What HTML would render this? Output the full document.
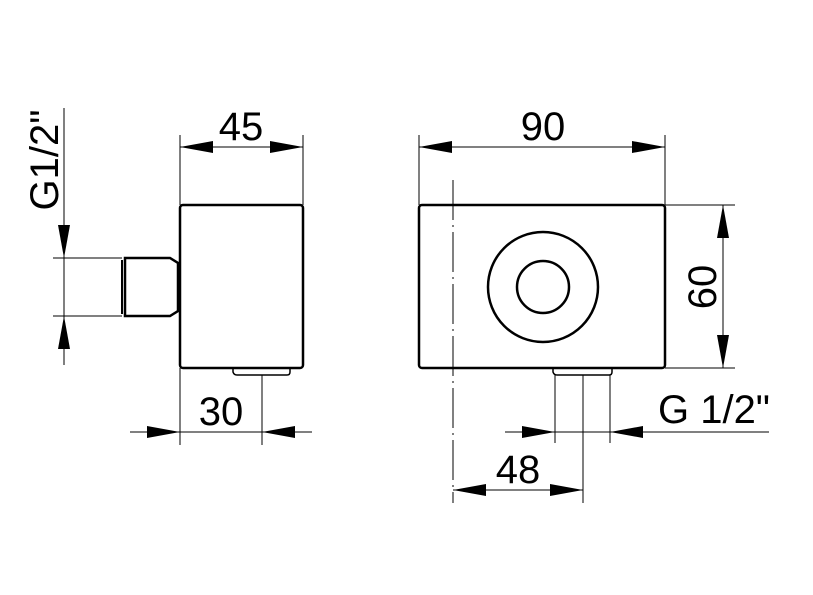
<!DOCTYPE html>
<html><head><meta charset="utf-8"><style>
html,body{margin:0;padding:0;background:#fff;width:813px;height:595px;overflow:hidden}
text{font-family:"Liberation Sans",Arial,sans-serif;fill:#000}
</style></head><body>
<svg width="813" height="595" viewBox="0 0 813 595" xmlns="http://www.w3.org/2000/svg">
<g stroke="#000" fill="none">
<rect x="180" y="205" width="123" height="163" rx="3" stroke-width="2.5"/>
<path d="M125 258 H170 L178 263 V311 L170 316 H125 Z" stroke-width="2.5"/>
<line x1="122" y1="260" x2="122" y2="314" stroke-width="2"/>
<path d="M233 368 V372 Q234 375 237 375 H287 Q290 375 290 372 V368" stroke-width="1.5"/>
<line x1="180" y1="135" x2="180" y2="205" stroke-width="1"/>
<line x1="303" y1="135" x2="303" y2="205" stroke-width="1"/>
<line x1="180" y1="147" x2="303" y2="147" stroke-width="1"/>
<line x1="64" y1="108" x2="64" y2="365" stroke-width="1"/>
<line x1="53" y1="258" x2="122" y2="258" stroke-width="1"/>
<line x1="53" y1="316" x2="122" y2="316" stroke-width="1"/>
<line x1="180" y1="368" x2="180" y2="445" stroke-width="1"/>
<line x1="262" y1="375" x2="262" y2="445" stroke-width="1"/>
<line x1="130" y1="432" x2="312" y2="432" stroke-width="1"/>

<rect x="419" y="205" width="246" height="163" rx="3" stroke-width="2.5"/>
<circle cx="543" cy="287" r="55" stroke-width="2.5"/>
<circle cx="543" cy="287" r="26" stroke-width="2.5"/>
<path d="M553 368 V372 Q554 375 557 375 H609 Q612 375 612 372 V368" stroke-width="1.5"/>
<line x1="453" y1="180" x2="453" y2="503" stroke-width="1" stroke-dasharray="40,5,2,5"/>
<line x1="583" y1="375" x2="583" y2="503" stroke-width="1"/>
<line x1="555" y1="375" x2="555" y2="443" stroke-width="1"/>
<line x1="610" y1="375" x2="610" y2="443" stroke-width="1"/>
<line x1="419" y1="135" x2="419" y2="205" stroke-width="1"/>
<line x1="665" y1="135" x2="665" y2="205" stroke-width="1"/>
<line x1="419" y1="147" x2="665" y2="147" stroke-width="1"/>
<line x1="665" y1="205" x2="735" y2="205" stroke-width="1"/>
<line x1="665" y1="368" x2="735" y2="368" stroke-width="1"/>
<line x1="723" y1="205" x2="723" y2="368" stroke-width="1"/>
<line x1="505" y1="432" x2="769" y2="432" stroke-width="1"/>
<line x1="453" y1="490" x2="583" y2="490" stroke-width="1"/>
</g>
<g fill="#000">
<polygon points="180,147 213,141 213,153"/>
<polygon points="303,147 270,141 270,153"/>
<polygon points="64,258 58,225 70,225"/>
<polygon points="64,316 58,349 70,349"/>
<polygon points="180,432 147,426 147,438"/>
<polygon points="262,432 295,426 295,438"/>
<polygon points="419,147 452,141 452,153"/>
<polygon points="665,147 632,141 632,153"/>
<polygon points="723,205 717,238 729,238"/>
<polygon points="723,368 717,335 729,335"/>
<polygon points="555,432 522,426 522,438"/>
<polygon points="610,432 643,426 643,438"/>
<polygon points="453,490 486,484 486,496"/>
<polygon points="583,490 550,484 550,496"/>
</g>
<text x="241" y="140" font-size="40" text-anchor="middle">45</text>
<text x="221" y="425" font-size="40" text-anchor="middle">30</text>
<text x="543" y="140" font-size="40" text-anchor="middle">90</text>
<text x="518" y="483" font-size="40" text-anchor="middle">48</text>
<text x="658" y="423" font-size="40" textLength="112" lengthAdjust="spacingAndGlyphs">G 1/2"</text>
<text transform="translate(58,160) rotate(-90)" font-size="40" text-anchor="middle">G1/2"</text>
<text transform="translate(716,287) rotate(-90)" font-size="40" text-anchor="middle">60</text>
</svg>
</body></html>
